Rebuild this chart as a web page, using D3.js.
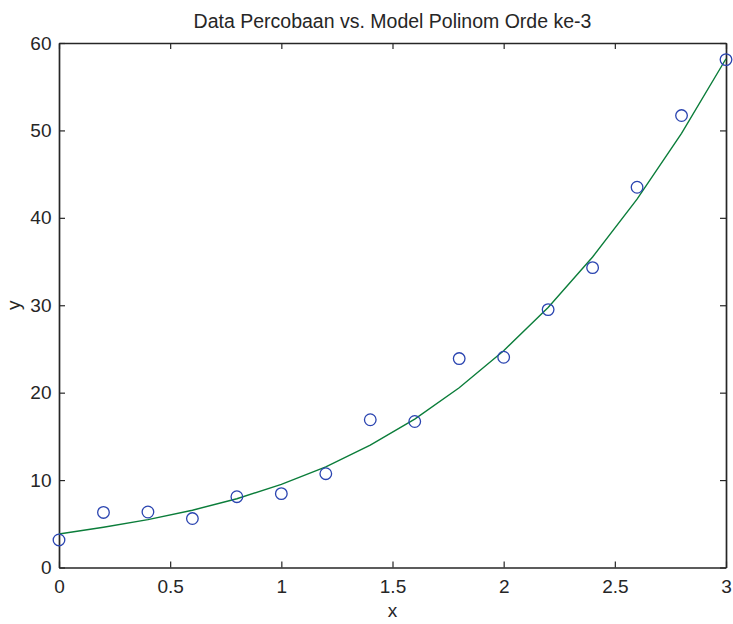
<!DOCTYPE html>
<html><head><meta charset="utf-8">
<script src="https://cdn.jsdelivr.net/npm/d3@7"></script>
<style>body{margin:0;background:#fff}svg{display:block}text{font-family:"Liberation Sans",Arial,sans-serif;fill:#262626}</style>
</head><body><svg id="c" width="733" height="624"></svg>
<script>
const xData = [0,0.2,0.4,0.6,0.8,1.0,1.2,1.4,1.6,1.8,2.0,2.2,2.4,2.6,2.8,3.0];
const yData = [3.15,6.3,6.35,5.6,8.1,8.45,10.73,16.9,16.7,23.9,24.05,29.5,34.3,43.5,51.7,58.1];
const yModel = [3.83,4.60,5.48,6.55,7.87,9.50,11.51,13.99,16.98,20.56,24.8,29.75,35.52,42.13,49.67,58.2];
const xTicks = [0,0.5,1,1.5,2,2.5,3];
const yTicks = [0,10,20,30,40,50,60];
const title = "Data Percobaan vs. Model Polinom Orde ke-3";

const L=59,R=726,T=43,B=567.5;
const FS=19;
const svg=d3.select("#c");
const x=d3.scaleLinear().domain([0,3]).range([L,R]);
const y=d3.scaleLinear().domain([0,60]).range([B,T]);
const tl=6;
const fmt=d=>String(d);
const g=svg.append("g");
const ax=g.append("g").attr("transform",`translate(0,${B})`).call(d3.axisBottom(x).tickValues(xTicks).tickFormat(fmt).tickSizeInner(-tl).tickSizeOuter(0).tickPadding(12.5));
const axT=g.append("g").attr("transform",`translate(0,${T})`).call(d3.axisTop(x).tickValues(xTicks).tickFormat("").tickSizeInner(-tl).tickSizeOuter(0));
const ay=g.append("g").attr("transform",`translate(${L},0)`).call(d3.axisLeft(y).tickValues(yTicks).tickFormat(fmt).tickSizeInner(-tl).tickSizeOuter(0).tickPadding(7.5));
const ayR=g.append("g").attr("transform",`translate(${R},0)`).call(d3.axisRight(y).tickValues(yTicks).tickFormat("").tickSizeInner(-tl).tickSizeOuter(0));
[ax,axT,ay,ayR].forEach(a=>{
  a.select(".domain").attr("stroke","#262626").attr("stroke-width",1.7);
  a.selectAll(".tick line").attr("stroke","#262626").attr("stroke-width",1.2);
  a.selectAll("text").attr("font-size",FS).attr("fill","#262626").attr("font-family",'"Liberation Sans",Arial,sans-serif');
});
// model line
const line=d3.line().x((d,i)=>x(xData[i])).y(d=>y(d));
svg.append("path").datum(yModel).attr("d",line).attr("fill","none").attr("stroke","#0b7d3a").attr("stroke-width",1.4);
// data points
svg.append("g").selectAll("circle").data(yData).join("circle")
  .attr("cx",(d,i)=>x(xData[i])).attr("cy",d=>y(d)).attr("r",5.8)
  .attr("fill","none").attr("stroke","#2a44b0").attr("stroke-width",1.3);
// labels
svg.append("text").attr("x",(L+R)/2).attr("y",28).attr("text-anchor","middle").attr("font-size",FS+0.5).text(title);
svg.append("text").attr("x",(L+R)/2).attr("y",617).attr("text-anchor","middle").attr("font-size",FS).text("x");
svg.append("text").attr("transform",`translate(20,${(T+B)/2}) rotate(-90)`).attr("text-anchor","middle").attr("font-size",FS).text("y");
</script></body></html>
